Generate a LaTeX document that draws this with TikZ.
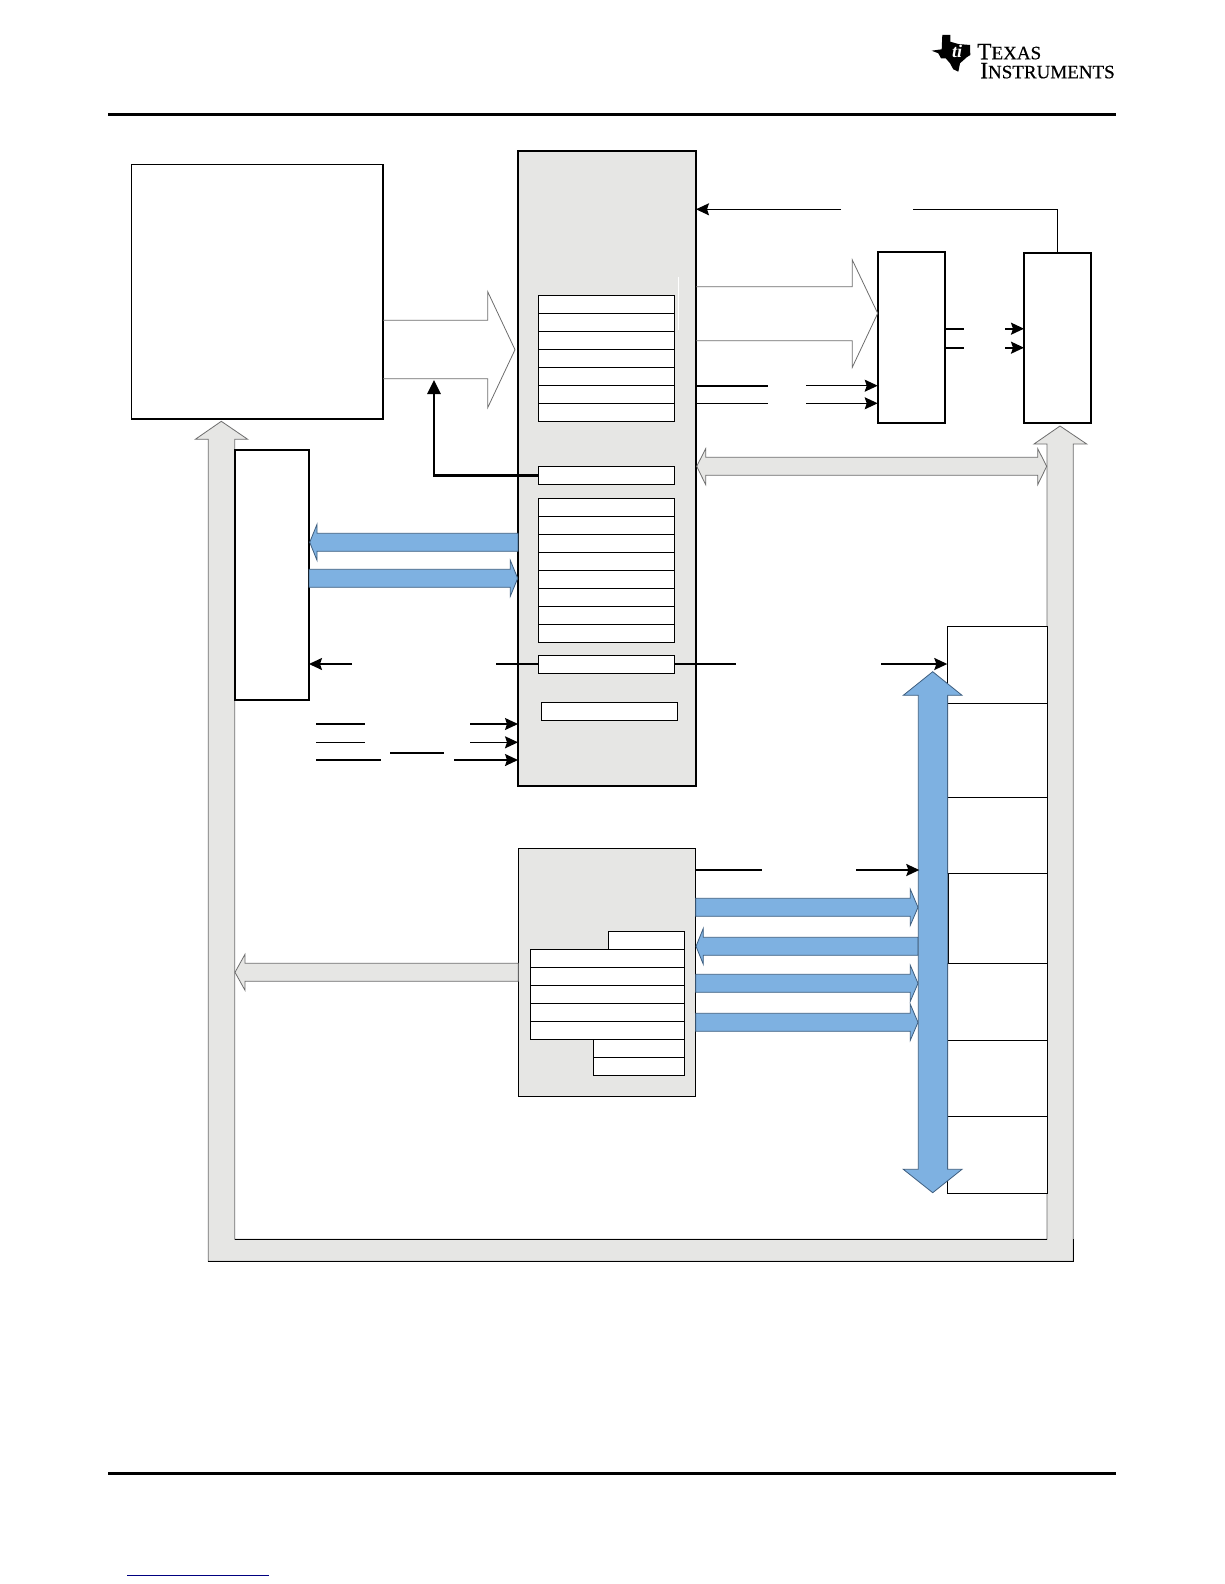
\documentclass[tikz,border=0pt]{standalone}
\usepackage{fontspec}
\usetikzlibrary{arrows.meta}
\setmainfont{Liberation Serif}
\newfontfamily\logofont[FakeBold=0.5]{Liberation Serif}
\definecolor{panel}{HTML}{E6E6E4}
\definecolor{busblue}{HTML}{7EB1E1}
\definecolor{busedge}{HTML}{3F5F80}
\definecolor{busgrey}{HTML}{6E6E6E}
\definecolor{linkblue}{HTML}{000080}
\tikzset{
  thickpanel/.style={draw=black,line width=1.9pt,fill=panel},
  thinpanel/.style={draw=black,line width=1pt,fill=panel},
  blockbox/.style={draw=black,line width=1.8pt,fill=white},
  largebox/.style={draw=black,line width=1.6pt,fill=white},
  regbox/.style={draw=black,line width=.9pt,fill=white},
  memcell/.style={draw=black,line width=.9pt,fill=white},
  sigline/.style={draw=black,line width=1.1pt},
  sigthick/.style={draw=black,line width=1.7pt},
  sigarrow/.style={sigline,-{Stealth[length=13pt,width=12pt,inset=2pt]}},
  sigarrowthick/.style={sigthick,-{Stealth[length=13pt,width=12pt,inset=2pt]}},
  ctlarrow/.style={draw=black,line width=2.8pt,-{Stealth[length=14pt,width=13pt,inset=0pt]}},
  bluebus/.style={fill=busblue,draw=busedge,line width=.8pt},
  greybus/.style={fill=panel,draw=busgrey,line width=.8pt},
  hollowbus/.style={draw=busgrey,line width=.8pt},
  rule/.style={draw=black,line width=3pt},
}
% box by corners: style, name, x1,y1,x2,y2
\newcommand{\cornerbox}[6]{%
  \pgfmathsetmacro{\bw}{#5-#3}\pgfmathsetmacro{\bh}{#6-#4}%
  \node[#1,inner sep=0pt,outer sep=0pt,anchor=north west,minimum width=\bw pt,minimum height=\bh pt] (#2) at (#3,#4) {};}
% stack of rows: name prefix, rows, x1, y1, x2, step
\newcommand{\rowstack}[6]{%
  \foreach \i in {1,...,#2}{%
    \pgfmathsetmacro{\yy}{#4+(\i-1)*#6}\pgfmathsetmacro{\yz}{#4+\i*#6}%
    \cornerbox{regbox}{#1\i}{#3}{\yy}{#5}{\yz}}}
% block arrows: style, start x, base x, tip x, mid y
\newcommand{\blockarrow}[5]{%
  \path[#1] (#2,#5-9) -- (#3,#5-9) -- (#3,#5-18) -- (#4,#5) -- (#3,#5+18) -- (#3,#5+9) -- (#2,#5+9) -- cycle;}
\begin{document}
\begin{tikzpicture}[x=1pt,y=-1pt]
\useasboundingbox (0,0) rectangle (1224,1584);
\fill[white] (0,0) rectangle (1224,1584);

% header / footer
\coordinate (hdrL) at (108,114.7); \coordinate (hdrR) at (1116,114.7);
\coordinate (ftrL) at (108,1473.3); \coordinate (ftrR) at (1116,1473.3);
\coordinate (lnkL) at (127,1575.3); \coordinate (lnkR) at (269,1575.3);
\draw[rule] (hdrL) -- (hdrR);
\draw[rule] (ftrL) -- (ftrR);
\draw[draw=linkblue,line width=1pt] (lnkL) -- (lnkR);

% logo
\fill[black] (942.3,35) -- (950.3,35) -- (950.3,41.7) -- (958.3,44) -- (970,45) -- (970.3,55) -- (966.7,57.3) -- (960,63.3) -- (958.3,71.7) -- (953.3,69.3) -- (950,63.3) -- (945.7,58.3) -- (941,58.3) -- (938.3,53.3) -- (931.7,50.7) -- (941.7,49.3) -- cycle;
\node[anchor=center,inner sep=0pt,text=white] (logoti) at (957,51.5) {\fontsize{18}{18}\selectfont\bfseries\itshape ti};
\node[anchor=base west,inner sep=0pt,align=left,font=\logofont\fontsize{19}{19}\selectfont] (logoa) at (977,78.3) {{\fontsize{23.5}{19}\selectfont T}EXAS\\[0pt]\hspace*{3pt}{\fontsize{23.5}{19}\selectfont I}NSTRUMENTS};

% outer grey bus
\path[greybus] (221.3,421.3) -- (247.7,439.3) -- (234.7,439.3) -- (234.7,1239.3) -- (1047,1239.3) -- (1047,444) -- (1034,444) -- (1060,426) -- (1086.7,444) -- (1073.3,444) -- (1073.3,1261.3) -- (208.3,1261.3) -- (208.3,439.3) -- (195.3,439.3) -- cycle;
\draw[black,line width=1pt] (234.7,1239.3) -- (1047,1239.3);
\draw[black,line width=1pt] (208.3,1261.3) -- (1073.3,1261.3) -- (1073.3,1239.3);

% large blocks
\cornerbox{largebox}{cpu}{131.3}{164.6}{383}{418.7}
\cornerbox{thickpanel}{main}{518}{151}{696}{785.7}
\cornerbox{blockbox}{midbox}{877.7}{251.7}{945}{423}
\cornerbox{blockbox}{rightbox}{1024}{253.3}{1091}{423}
\cornerbox{blockbox}{leftbox}{235}{449.7}{309}{700}
\cornerbox{thinpanel}{lower}{518.3}{848.3}{695.7}{1096.3}

% faint white stripe in the main panel
\coordinate (stripeT) at (678.7,277); \coordinate (stripeB) at (678.7,330);
\draw[white,line width=1.2pt] (stripeT) -- (stripeB);

% registers in main panel
\rowstack{ra}{7}{538.3}{295.3}{674.7}{18}
\cornerbox{regbox}{rb}{538.3}{466.3}{674.7}{484.3}
\rowstack{rc}{8}{538.3}{498.3}{674.7}{18}
\cornerbox{regbox}{rd}{538.3}{655.3}{674.7}{673.3}
\cornerbox{regbox}{re}{541.3}{702.3}{677.7}{720.3}

% registers in lower panel
\cornerbox{regbox}{la}{608.3}{931.3}{684.7}{949.3}
\rowstack{lb}{5}{530.3}{949.3}{684.7}{18}
\rowstack{lc}{2}{593.7}{1039.3}{684.7}{18}

% memory stack
\cornerbox{memcell}{m1}{947.3}{626}{1047}{703.3}
\cornerbox{memcell}{m2}{947.3}{703.3}{1047}{797.3}
\cornerbox{memcell}{m3}{947.3}{797.3}{1047}{873.3}
\cornerbox{memcell}{m4}{948.3}{873.3}{1047}{963.3}
\cornerbox{memcell}{m5}{947.3}{963.3}{1047}{1040.3}
\cornerbox{memcell}{m6}{947.3}{1040.3}{1047}{1116}
\cornerbox{memcell}{m7}{947.3}{1116}{1047}{1193.3}

% hollow arrows
\path[hollowbus] (cpu.east |- 0,320.3) -- (487.7,320.3) -- (487.7,291.7) -- (515,349.7) -- (487.7,407.7) -- (487.7,378.7) -- (cpu.east |- 0,378.7);
\path[hollowbus] (main.east |- 0,286.7) -- (852.3,286.7) -- (852.3,260) -- (midbox.west |- 0,313.3) -- (852.3,367.3) -- (852.3,340.7) -- (main.east |- 0,340.7);

% grey double arrow
\path[greybus] (696.7,466.3) -- (705.7,448.7) -- (705.7,457.3) -- (1037.7,457.3) -- (1037.7,448.7) -- (1046.7,466.3) -- (1037.7,484.7) -- (1037.7,475.3) -- (705.7,475.3) -- (705.7,484.7) -- cycle;
% grey arrow to the outer bus
\blockarrow{greybus}{518.3}{245}{235}{972.3}

% blue arrows
\blockarrow{bluebus}{518}{317}{309.7}{542.3}
\blockarrow{bluebus}{309}{510.3}{517.7}{578.3}
\blockarrow{bluebus}{695.7}{910.3}{918}{907.3}
\blockarrow{bluebus}{918}{703.3}{696}{946.3}
\blockarrow{bluebus}{695.7}{910.3}{918}{983.3}
\blockarrow{bluebus}{695.7}{910.3}{918}{1022.3}
\path[bluebus] (932.7,671.7) -- (962,695.3) -- (947.7,695.3) -- (947.7,1169.3) -- (962,1169.3) -- (932.7,1192.7) -- (903.3,1169.3) -- (918.3,1169.3) -- (918.3,695.3) -- (903.3,695.3) -- cycle;

% connectors
\coordinate (topgapL) at (841,209.3); \coordinate (topgapR) at (913.3,209.3);
\draw[sigarrow] (topgapL) -- (topgapL -| main.east);
\draw[sigline] (topgapR) -- (topgapR -| rightbox.north) -- (rightbox.north);

\coordinate (s1a) at (768,385.7); \coordinate (s1b) at (806,385.7);
\coordinate (s2a) at (768,403.3); \coordinate (s2b) at (806,403.3);
\draw[sigthick] (s1a -| main.east) -- (s1a);
\draw[sigarrow] (s1b) -- (s1b -| midbox.west);
\draw[sigline] (s2a -| main.east) -- (s2a);
\draw[sigarrow] (s2b) -- (s2b -| midbox.west);

\coordinate (s3a) at (964,328.7); \coordinate (s3b) at (1005,328.7);
\coordinate (s4a) at (964,347.7); \coordinate (s4b) at (1005,347.7);
\draw[sigthick] (s3a -| midbox.east) -- (s3a);
\draw[sigarrowthick] (s3b) -- (s3b -| rightbox.west);
\draw[sigthick] (s4a -| midbox.east) -- (s4a);
\draw[sigarrowthick] (s4b) -- (s4b -| rightbox.west);

\coordinate (ctlbend) at (434,475.3); \coordinate (ctltip) at (434,380);
\draw[ctlarrow] (rb.west) -- (ctlbend) -- (ctltip);

\coordinate (c1a) at (352,664); \coordinate (c1b) at (496,664);
\draw[sigarrowthick] (c1a) -- (c1a -| leftbox.east);
\draw[sigthick] (c1b) -- (c1b -| rd.west);
\coordinate (c2a) at (736,664); \coordinate (c2b) at (881,664);
\draw[sigthick] (c2a -| rd.east) -- (c2a);
\draw[sigarrowthick] (c2b) -- (c2b -| m1.west);

\coordinate (i1a) at (316.3,724); \coordinate (i1b) at (365,724); \coordinate (i1c) at (470,724);
\coordinate (i2a) at (316.3,742.3); \coordinate (i2b) at (365,742.3); \coordinate (i2c) at (470,742.3);
\coordinate (i3a) at (316.3,760); \coordinate (i3b) at (381,760); \coordinate (i3c) at (454,760);
\coordinate (barL) at (390,753); \coordinate (barR) at (444,753);
\draw[sigline] (i1a) -- (i1b);
\draw[sigarrow] (i1c) -- (i1c -| main.west);
\draw[sigline] (i2a) -- (i2b);
\draw[sigarrow] (i2c) -- (i2c -| main.west);
\draw[sigthick] (i3a) -- (i3b);
\draw[sigarrowthick] (i3c) -- (i3c -| main.west);
\draw[sigline] (barL) -- (barR);

\coordinate (l1a) at (762,870); \coordinate (l1b) at (856,870);
\draw[sigthick] (l1a -| lower.east) -- (l1a);
\draw[sigarrowthick] (l1b) -- (919.3,870);
\end{tikzpicture}
\end{document}
